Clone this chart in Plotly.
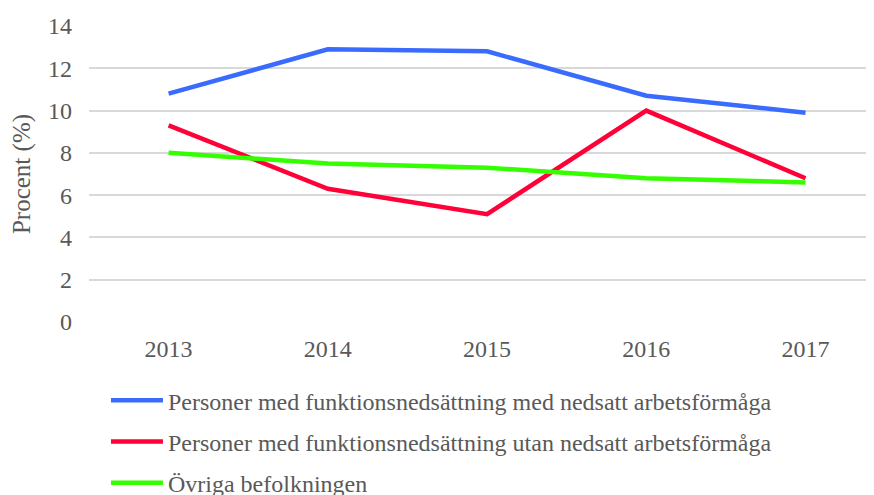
import plotly.graph_objects as go

years = ["2013", "2014", "2015", "2016", "2017"]
med_nedsatt = [10.8, 12.9, 12.8, 10.7, 9.9]
utan_nedsatt = [9.3, 6.3, 5.1, 10.0, 6.8]
ovriga = [8.0, 7.5, 7.3, 6.8, 6.6]
names = [
    "Personer med funktionsnedsättning med nedsatt arbetsförmåga",
    "Personer med funktionsnedsättning utan nedsatt arbetsförmåga",
    "Övriga befolkningen",
]
colors = ["#3A6BFF", "#FF0038", "#33FF00"]

fig = go.Figure()
for i, (vals, nm, c) in enumerate(zip([med_nedsatt, utan_nedsatt, ovriga], names, colors)):
    fig.add_trace(go.Scatter(x=years, y=vals, mode="lines", name=nm,
                             line=dict(color=c, width=4.5), legendgroup=str(i)))

font = "Liberation Serif"
fig.update_layout(
    width=866, height=487,
    margin=dict(l=81, r=0, t=18, b=173, autoexpand=False),
    plot_bgcolor="white", paper_bgcolor="white",
    font=dict(family=font, size=24, color="#595959"),
    showlegend=True,
    legend=dict(orientation="v", x=0.0216, xanchor="left", y=-0.19, yanchor="top",
                yref="paper", font=dict(family=font, size=24, color="#595959"),
                tracegroupgap=7, itemwidth=52),
    xaxis=dict(type="category", range=[-0.5, 4.43], showgrid=False, zeroline=False,
               showline=False, ticks="", ticklabelstandoff=10,
               tickfont=dict(family=font, size=24, color="#595959")),
    yaxis=dict(range=[0, 14], dtick=2, showgrid=True, gridcolor="#D9D9D9", gridwidth=1.5,
               zeroline=False, showline=False, ticks="", ticklabelstandoff=16,
               tickfont=dict(family=font, size=24, color="#595959"),
               title=dict(text="Procent (%)", font=dict(family=font, size=25, color="#595959"),
                          standoff=10)),
)
fig.write_html("out.html")
